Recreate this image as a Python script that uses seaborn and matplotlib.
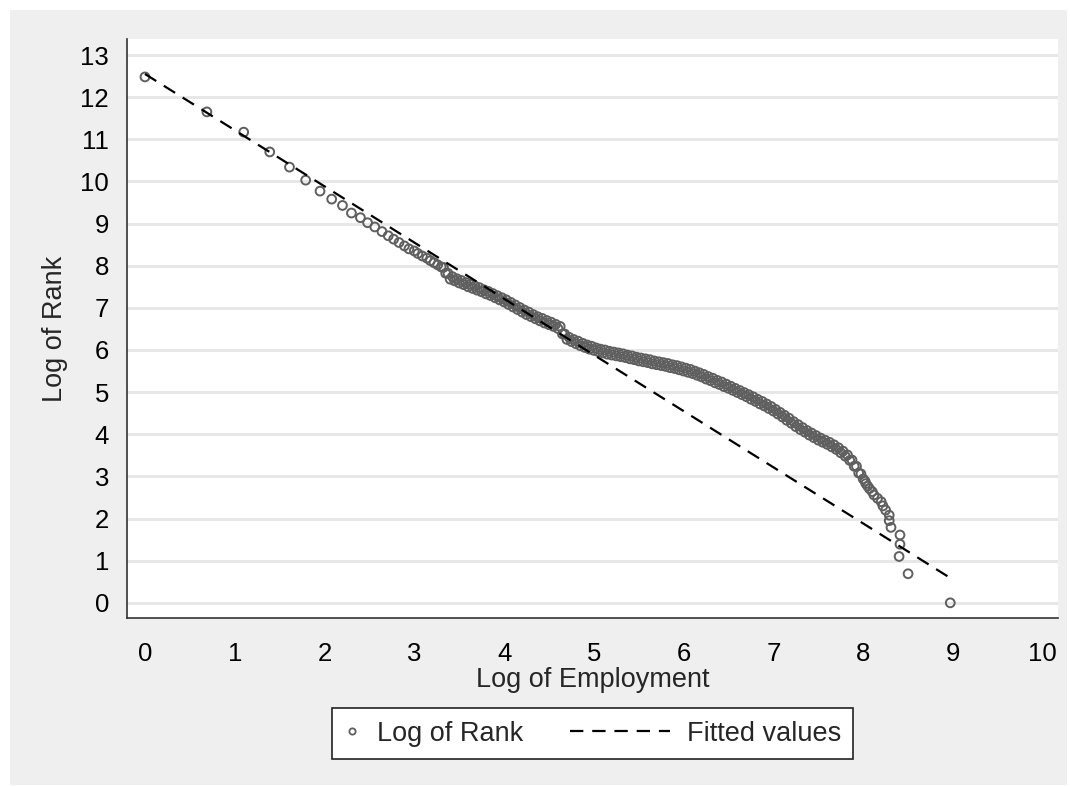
import matplotlib
matplotlib.use("Agg")
import matplotlib.pyplot as plt
from matplotlib.patches import Rectangle
from matplotlib.lines import Line2D
from matplotlib.legend_handler import HandlerBase
import seaborn as sns
import pandas as pd

sns.set_style("white")
plt.rcParams["font.family"] = ["Liberation Sans", "DejaVu Sans"]

# ---- data ----
# sparse points (small employment sizes)
head_x = [0.00, 0.69, 1.10, 1.39, 1.61, 1.79, 1.95, 2.08, 2.20, 2.30,
          2.40, 2.48, 2.56, 2.64, 2.71, 2.77, 2.83, 2.89, 2.94, 3.00,
          3.04, 3.09, 3.14, 3.18, 3.22, 3.26, 3.30]
head_y = [12.48, 11.65, 11.17, 10.70, 10.34, 10.03, 9.77, 9.58, 9.43, 9.25,
          9.14, 9.02, 8.92, 8.81, 8.71, 8.63, 8.55, 8.47, 8.40, 8.35,
          8.29, 8.23, 8.18, 8.12, 8.07, 8.02, 7.97]

# dense band
band_x = [3.325, 3.350, 3.375, 3.400, 3.425, 3.450, 3.475, 3.500, 3.525, 3.550,
          3.575, 3.600, 3.625, 3.650, 3.675, 3.700, 3.725, 3.750, 3.775, 3.800,
          3.825, 3.850, 3.875, 3.900, 3.925, 3.950, 3.975, 4.000, 4.025, 4.050,
          4.075, 4.100, 4.125, 4.150, 4.175, 4.200, 4.225, 4.250, 4.275, 4.300,
          4.325, 4.350, 4.375, 4.400, 4.425, 4.450, 4.475, 4.500, 4.525, 4.550,
          4.575, 4.600, 4.625, 4.650, 4.675, 4.700, 4.725, 4.750, 4.775, 4.800,
          4.825, 4.850, 4.875, 4.900, 4.925, 4.950, 4.975, 5.000, 5.025, 5.050,
          5.075, 5.100, 5.125, 5.150, 5.175, 5.200, 5.225, 5.250, 5.275, 5.300,
          5.325, 5.350, 5.375, 5.400, 5.425, 5.450, 5.475, 5.500, 5.525, 5.550,
          5.575, 5.600, 5.625, 5.650, 5.675, 5.700, 5.725, 5.750, 5.775, 5.800,
          5.825, 5.850, 5.875, 5.900, 5.925, 5.950, 5.975, 6.000, 6.025, 6.050,
          6.075, 6.100, 6.125, 6.150, 6.175, 6.200, 6.225, 6.250, 6.275, 6.300,
          6.325, 6.350, 6.375, 6.400, 6.425, 6.450, 6.475, 6.500, 6.525, 6.550,
          6.575, 6.600, 6.625, 6.650, 6.675, 6.700, 6.725, 6.750, 6.775, 6.800,
          6.825, 6.850, 6.875, 6.900, 6.925, 6.950, 6.975, 7.000, 7.025, 7.050,
          7.075, 7.100, 7.125, 7.150, 7.175, 7.200, 7.225, 7.250, 7.275, 7.300,
          7.325, 7.350, 7.375, 7.400, 7.425, 7.450, 7.475, 7.500, 7.525, 7.550,
          7.575, 7.600, 7.625, 7.650, 7.675, 7.700, 7.725, 7.750, 7.775, 7.800,
          7.825, 7.850, 7.875, 7.900, 7.925, 7.950, 7.975]
band_y = [7.96, 7.82, 7.82, 7.68, 7.74, 7.64, 7.69, 7.59, 7.65, 7.55,
          7.60, 7.50, 7.56, 7.46, 7.52, 7.42, 7.48, 7.38, 7.43, 7.33,
          7.39, 7.29, 7.34, 7.24, 7.29, 7.19, 7.24, 7.14, 7.19, 7.08,
          7.13, 7.02, 7.07, 6.96, 7.01, 6.90, 6.95, 6.84, 6.90, 6.79,
          6.84, 6.74, 6.79, 6.69, 6.75, 6.64, 6.70, 6.60, 6.66, 6.56,
          6.61, 6.51, 6.56, 6.38, 6.38, 6.25, 6.30, 6.20, 6.25, 6.15,
          6.21, 6.10, 6.16, 6.06, 6.12, 6.02, 6.09, 5.99, 6.05, 5.96,
          6.02, 5.93, 6.00, 5.90, 5.97, 5.88, 5.95, 5.86, 5.93, 5.84,
          5.91, 5.82, 5.88, 5.79, 5.86, 5.77, 5.83, 5.74, 5.81, 5.72,
          5.79, 5.70, 5.77, 5.67, 5.74, 5.65, 5.72, 5.63, 5.70, 5.61,
          5.68, 5.58, 5.65, 5.56, 5.63, 5.53, 5.60, 5.50, 5.57, 5.47,
          5.54, 5.44, 5.50, 5.40, 5.46, 5.36, 5.42, 5.31, 5.37, 5.27,
          5.33, 5.22, 5.28, 5.18, 5.24, 5.13, 5.19, 5.09, 5.14, 5.04,
          5.09, 4.99, 5.04, 4.94, 4.99, 4.89, 4.94, 4.83, 4.89, 4.78,
          4.83, 4.72, 4.78, 4.67, 4.72, 4.61, 4.66, 4.55, 4.59, 4.48,
          4.52, 4.41, 4.45, 4.33, 4.38, 4.26, 4.30, 4.18, 4.23, 4.11,
          4.16, 4.05, 4.09, 3.98, 4.03, 3.92, 3.97, 3.86, 3.91, 3.81,
          3.86, 3.76, 3.81, 3.70, 3.75, 3.64, 3.68, 3.56, 3.60, 3.48,
          3.51, 3.38, 3.39, 3.24, 3.24, 3.08, 3.06]

# sparse tail (largest firms)
tail_x = [8.00, 8.02, 8.03, 8.05, 8.07, 8.10, 8.12, 8.16, 8.20, 8.22,
          8.25, 8.29, 8.29, 8.31, 8.41, 8.41, 8.40, 8.50, 8.97]
tail_y = [2.94, 2.89, 2.83, 2.77, 2.71, 2.64, 2.56, 2.48, 2.40, 2.30,
          2.20, 2.08, 1.95, 1.79, 1.61, 1.39, 1.10, 0.69, 0.00]

# fitted regression line end points
fit_x = [0.0, 9.0]
fit_y = [12.55, 0.55]

x_ticks = list(range(0, 11))
y_ticks = list(range(0, 14))

points = pd.DataFrame({"emp": head_x + band_x + tail_x,
                       "rank": head_y + band_y + tail_y})
fitted = pd.DataFrame({"emp": fit_x, "fit": fit_y})

FS = 19.5
grey = "#5f5f5f"
DASH = (6, 4)


class LeftMarker(HandlerBase):
    def create_artists(self, legend, orig_handle, xdescent, ydescent,
                       width, height, fontsize, trans):
        m = Line2D([width / 2 - xdescent], [height / 2 - ydescent], ls="none",
                   marker="o", markersize=4.5, markerfacecolor="none",
                   markeredgecolor=grey, markeredgewidth=1.3, transform=trans)
        return [m]


class LongDash(HandlerBase):
    def create_artists(self, legend, orig_handle, xdescent, ydescent,
                       width, height, fontsize, trans):
        y = height / 2 - ydescent
        ln = Line2D([-xdescent - 3.1 * fontsize, width - xdescent], [y, y],
                    color="black", lw=1.6, dashes=DASH, transform=trans)
        return [ln]


# ---- figure ----
fig = plt.figure(figsize=(10.7, 7.87), dpi=100, facecolor="white")
fig.patches.append(Rectangle((10 / 1070, 2 / 787), 1057 / 1070, 775 / 787,
                             transform=fig.transFigure, facecolor="#efefef",
                             edgecolor="none", zorder=-10))
ax = fig.add_axes([127 / 1070, 169 / 787, 931 / 1070, 579 / 787])
ax.set_facecolor("white")

for yv in y_ticks:
    ax.axhline(yv, color="#e6e6e6", lw=2, zorder=0)

sns.scatterplot(data=points, x="emp", y="rank", ax=ax, marker="o", s=40,
                facecolor="none", edgecolor=grey, linewidth=1.4, zorder=3)
sns.lineplot(data=fitted, x="emp", y="fit", ax=ax, color="black", lw=1.6,
             zorder=4)
ax.lines[-1].set_dashes(DASH)

ax.set_xlim(-0.2, 10.17)
ax.set_ylim(-0.36, 13.38)
ax.set_xticks(x_ticks)
ax.set_yticks(y_ticks)
ax.tick_params(axis="both", direction="out", length=9, width=1, color="#333333",
               labelsize=18.5, labelcolor="black")
ax.tick_params(axis="x", pad=8)
ax.tick_params(axis="y", pad=4)
for s in ["top", "right"]:
    ax.spines[s].set_visible(False)
for s in ["left", "bottom"]:
    ax.spines[s].set_color("#333333")
    ax.spines[s].set_linewidth(1.2)

ax.set_xlabel("Log of Employment", fontsize=FS, labelpad=1)
ax.set_ylabel("Log of Rank", fontsize=FS, labelpad=9)

h_pts = Line2D([], [], ls="none", marker="o")
h_fit = Line2D([], [], color="black")
leg = ax.legend([h_pts, h_fit], ["Log of Rank", "Fitted values"], loc="center",
                bbox_to_anchor=(0.5, -0.200), ncol=2, fontsize=FS,
                frameon=True, fancybox=False, edgecolor="#222222",
                framealpha=1, handlelength=0.6, columnspacing=4.85,
                handletextpad=0.6, borderpad=0.46,
                handler_map={h_pts: LeftMarker(), h_fit: LongDash()})
leg.get_frame().set_linewidth(1.2)

fig.savefig("out.png", dpi=100, facecolor=fig.get_facecolor())
